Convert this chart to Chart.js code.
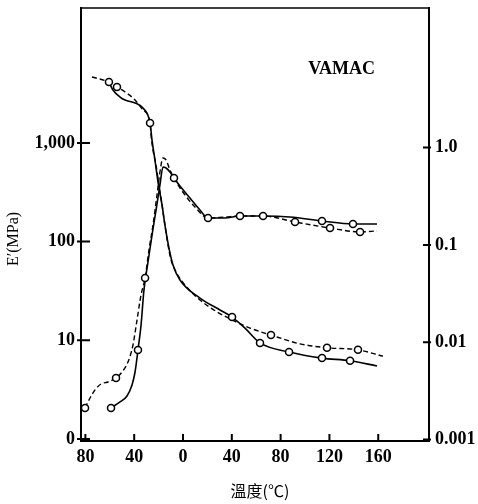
<!DOCTYPE html>
<html><head><meta charset="utf-8">
<script src="https://cdn.jsdelivr.net/npm/chart.js@4.4.1/dist/chart.umd.min.js"></script>
<style>html,body{margin:0;padding:0;background:#fff;}canvas{display:block;}</style>
</head><body>
<canvas id="c" width="478" height="504"></canvas>
<script>
// ---- data ----
const xTicks = [-80, -40, 0, 40, 80, 120, 160];
const leftTicks = [1, 10, 100, 1000];
const leftTickLabels = ['0', '10', '100', '1,000'];
const rightTicks = [0.001, 0.01, 0.1, 1];
const rightTickLabels = ['0.001', '0.01', '0.1', '1.0'];
const seriesLabel = 'VAMAC';
const xTitle = '溫度(℃)';
const yTitle = 'E′(MPa)';

// E' (MPa), left axis  [temperature °C, value]
const eSolid = [[-60.7,4140],[-57.4,3436],[-51.6,2917],[-47.5,2722],[-39.3,2535],[-32.8,2259],[-27.0,1592],[-25.4,1069],[-23.0,671],[-20.5,402],[-17.2,235],[-14.8,147],[-11.5,86],[-8.2,58],[-2.5,40.8],[13.9,26.8],[30.3,20.3],[40.2,17.2],[50.8,13.3],[63.1,9.4],[86.9,7.6],[113.9,6.6],[136.9,6.2],[159.0,5.5]];
const eSolidMarks = [[-60.7,4140],[-27.0,1592],[40.2,17.2],[63.1,9.4],[86.9,7.6],[113.9,6.6],[136.9,6.2]];
const eDashed = [[-74.6,4655],[-60.7,4140],[-54.1,3683],[-47.5,3281],[-39.3,2722],[-32.8,2154],[-27.0,1592],[-26.2,1202],[-24.6,847],[-22.1,597],[-19.7,374],[-17.2,235],[-14.8,147],[-12.3,92.4],[-9.8,65.2],[-5.7,49.2],[1.6,36.3],[13.9,25.6],[27.9,19.4],[40.2,16.1],[54.9,13.3],[72.1,11.3],[95.9,9.2],[118.0,8.4],[143.4,8.0],[163.9,6.9]];
const eDashedMarks = [[-54.1,3683],[72.1,11.3],[118.0,8.4],[143.4,8.0]];

// tan delta, right axis
const tSolid = [[-59.0,0.00211],[-51.6,0.00243],[-45.9,0.0028],[-41.8,0.00363],[-39.3,0.00494],[-36.9,0.00831],[-34.4,0.0150],[-32.0,0.0344],[-28.7,0.0667],[-25.4,0.126],[-22.1,0.228],[-18.9,0.413],[-16.4,0.632],[-13.9,0.617],[-10.7,0.561],[-7.4,0.487],[-2.5,0.403],[5.7,0.303],[13.9,0.228],[20.5,0.189],[34.4,0.189],[46.7,0.198],[65.6,0.198],[87.7,0.1935],[113.9,0.176],[139.3,0.164],[159.0,0.164]];
const tSolidMarks = [[-59.0,0.00211],[-36.9,0.00831],[-7.4,0.487],[65.6,0.198],[113.9,0.176],[139.3,0.164]];
const tDashed = [[-80.3,0.00211],[-76.2,0.00267],[-72.1,0.00323],[-67.2,0.00372],[-61.5,0.0039],[-54.9,0.00429],[-50.0,0.00494],[-45.1,0.00626],[-41.0,0.00936],[-37.7,0.0169],[-34.4,0.0306],[-31.1,0.0457],[-27.9,0.0886],[-24.6,0.160],[-21.3,0.326],[-18.9,0.561],[-16.4,0.782],[-13.9,0.746],[-10.7,0.589],[-6.6,0.465],[1.6,0.326],[9.8,0.245],[20.5,0.189],[34.4,0.1935],[46.7,0.198],[65.6,0.198],[91.8,0.172],[120.5,0.149],[145.1,0.136],[159.0,0.139]];
const tDashedMarks = [[-80.3,0.00211],[-54.9,0.00429],[-31.1,0.0457],[20.5,0.189],[46.7,0.198],[91.8,0.172],[120.5,0.149],[145.1,0.136]];

// ---- build ----
const pts = arr => arr.map(([x, y]) => ({x, y}));
const lineDs = (arr, axis, dashed) => ({
  type: 'line', data: pts(arr), yAxisID: axis,
  borderColor: '#000', borderWidth: dashed ? 1.4 : 1.6,
  borderDash: dashed ? [5, 3] : [], pointRadius: 0,
  cubicInterpolationMode: 'monotone', fill: false
});
const markDs = (arr, axis) => ({
  type: 'line', data: pts(arr), yAxisID: axis, showLine: false,
  pointRadius: 3.5, pointBorderWidth: 1.5, pointBorderColor: '#000',
  pointBackgroundColor: '#fff'
});

const serif = '"Liberation Serif", "Times New Roman", serif';
const noPad = s => { s.paddingTop = 0; s.paddingBottom = 0; s.paddingLeft = 0; s.paddingRight = 0; };

const decor = {
  id: 'decor',
  afterDraw(chart) {
    const {ctx, chartArea: a, scales} = chart;
    ctx.save();
    ctx.strokeStyle = '#000';
    ctx.lineWidth = 1.5;
    ctx.beginPath(); ctx.moveTo(a.left, a.top); ctx.lineTo(a.right, a.top); ctx.stroke();
    ctx.lineWidth = 2;
    ctx.beginPath();
    xTicks.forEach(v => { const p = scales.x.getPixelForValue(v); ctx.moveTo(p, a.bottom); ctx.lineTo(p, a.bottom - 7); });
    leftTicks.forEach(v => { const p = scales.yL.getPixelForValue(v); ctx.moveTo(a.left - 4, p); ctx.lineTo(a.left + 9, p); });
    rightTicks.forEach(v => { const p = scales.yR.getPixelForValue(v); ctx.moveTo(a.right - 6, p); ctx.lineTo(a.right + 2, p); });
    ctx.stroke();
    ctx.fillStyle = '#000';
    ctx.textAlign = 'center'; ctx.textBaseline = 'middle';
    ctx.font = 'bold 18px ' + serif;
    ctx.fillText(seriesLabel, scales.x.getPixelForValue(130), scales.yL.getPixelForValue(5600));
    ctx.font = '16px "Noto Sans CJK TC", "Noto Sans CJK SC", sans-serif';
    ctx.fillText(xTitle, 260, 491);
    ctx.translate(14, 239); ctx.rotate(-Math.PI / 2);
    ctx.font = '16px ' + serif;
    ctx.fillText(yTitle, 0, 0);
    ctx.restore();
  }
};

new Chart(document.getElementById('c'), {
  type: 'line',
  data: { datasets: [
    markDs(eSolidMarks, 'yL'), markDs(eDashedMarks, 'yL'),
    markDs(tSolidMarks, 'yR'), markDs(tDashedMarks, 'yR'),
    lineDs(eSolid, 'yL', false), lineDs(eDashed, 'yL', true),
    lineDs(tSolid, 'yR', false), lineDs(tDashed, 'yR', true)
  ]},
  options: {
    responsive: false, animation: false, devicePixelRatio: 1,
    layout: { padding: { top: 8, left: 0, right: 0, bottom: 0 } },
    plugins: { legend: { display: false }, tooltip: { enabled: false } },
    scales: {
      x: {
        type: 'linear', position: 'bottom', min: -83.6, max: 201.6,
        grid: { display: false, drawTicks: false }, border: { display: true, color: '#000', width: 2 },
        afterBuildTicks: s => { s.ticks = xTicks.map(v => ({value: v})); },
        afterFit: s => { s.height = 63; noPad(s); },
        ticks: { color: '#000', padding: 6, maxRotation: 0, autoSkip: false,
          font: { family: serif, size: 18, weight: 'bold' },
          callback: v => String(Math.abs(v)) }
      },
      yL: {
        type: 'logarithmic', position: 'left', min: 0.954, max: 23280,
        grid: { display: false, drawTicks: false }, border: { display: true, color: '#000', width: 2 },
        afterBuildTicks: s => { s.ticks = leftTicks.map(v => ({value: v})); },
        afterFit: s => { s.width = 81; noPad(s); },
        ticks: { color: '#000', padding: 6, autoSkip: false,
          font: { family: serif, size: 18, weight: 'bold' },
          callback: v => leftTickLabels[leftTicks.indexOf(v)] }
      },
      yR: {
        type: 'logarithmic', position: 'right', min: 0.000965, max: 27.2,
        grid: { display: false, drawTicks: false }, border: { display: true, color: '#000', width: 2 },
        afterBuildTicks: s => { s.ticks = rightTicks.map(v => ({value: v})); },
        afterFit: s => { s.width = 49; noPad(s); },
        ticks: { color: '#000', padding: 6, autoSkip: false,
          font: { family: serif, size: 18, weight: 'bold' },
          callback: v => rightTickLabels[rightTicks.indexOf(v)] }
      }
    }
  },
  plugins: [decor]
});
</script>
</body></html>
